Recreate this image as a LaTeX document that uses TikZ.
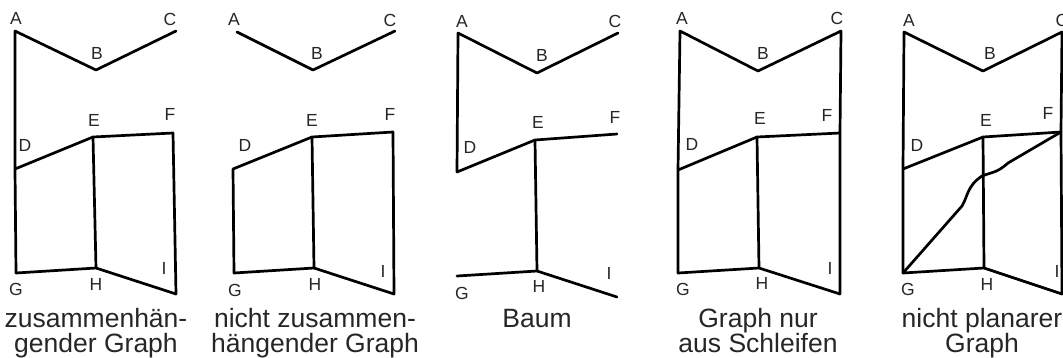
\documentclass[tikz,border=0pt]{standalone}
\usepackage{fontspec}
\setmainfont{Liberation Sans}
\usepackage{tikz}

\begin{document}
\begin{tikzpicture}[
    x=1pt, y=-1pt,
    edge/.style={line width=2.7pt, line join=round, line cap=round},
    vlabel/.style={
        font=\fontsize{17.5}{19}\selectfont,
        text=black!85,
        inner sep=0pt
    },
    caption/.style={
        font=\fontsize{26.5}{25}\selectfont,
        text=black!85,
        align=center,
        anchor=base,
        inner sep=0pt
    }
]
\useasboundingbox (0,0) rectangle (1063,357);

% zusammenhaengender Graph
\coordinate (A1) at (15,31);  \coordinate (B1) at (96,70);  \coordinate (C1) at (176,31);
\coordinate (D1) at (15,169); \coordinate (E1) at (93,137); \coordinate (F1) at (173,133);
\coordinate (G1) at (16,273); \coordinate (H1) at (96,268); \coordinate (I1) at (176,294);
\draw[edge] (C1) -- (B1) -- (A1) -- (D1) -- (G1) -- (H1) -- (I1) -- (F1) -- (E1) -- (D1);
\draw[edge] (E1) -- (H1);
\node[vlabel] (lA1) at (16,18)  {A};
\node[vlabel] (lB1) at (97,53)  {B};
\node[vlabel] (lC1) at (170,19) {C};
\node[vlabel] (lD1) at (25,145) {D};
\node[vlabel] (lE1) at (94,120) {E};
\node[vlabel] (lF1) at (170,114) {F};
\node[vlabel] (lG1) at (16,289) {G};
\node[vlabel] (lH1) at (96,284) {H};
\node[vlabel] (lI1) at (164,268) {I};
\node[caption] (cap1) at (96,352) {zusammenhän-\\gender Graph};

% nicht zusammenhaengender Graph
\coordinate (A2) at (237,32);  \coordinate (B2) at (313,70);  \coordinate (C2) at (395,31);
\coordinate (D2) at (233,169); \coordinate (E2) at (312,137); \coordinate (F2) at (393,132);
\coordinate (G2) at (234,273); \coordinate (H2) at (314,268); \coordinate (I2) at (394,294);
\draw[edge] (A2) -- (B2) -- (C2);
\draw[edge] (D2) -- (G2) -- (H2) -- (I2) -- (F2) -- (E2) -- (D2);
\draw[edge] (E2) -- (H2);
\node[vlabel] (lA2) at (234,19)  {A};
\node[vlabel] (lB2) at (317,53)  {B};
\node[vlabel] (lC2) at (390,20)  {C};
\node[vlabel] (lD2) at (245,145) {D};
\node[vlabel] (lE2) at (312,120) {E};
\node[vlabel] (lF2) at (390,114) {F};
\node[vlabel] (lG2) at (235,290) {G};
\node[vlabel] (lH2) at (315,284) {H};
\node[vlabel] (lI2) at (383,271) {I};
\node[caption] (cap2) at (315,352) {nicht zusammen-\\hängender Graph};

% Baum
\coordinate (A3) at (458,33);  \coordinate (B3) at (537,73);  \coordinate (C3) at (618,33);
\coordinate (D3) at (457,172); \coordinate (E3) at (535,140); \coordinate (F3) at (617,134);
\coordinate (G3) at (457,276); \coordinate (H3) at (537,271); \coordinate (I3) at (617,297);
\draw[edge] (C3) -- (B3) -- (A3) -- (D3) -- (E3) -- (F3);
\draw[edge] (E3) -- (H3);
\draw[edge] (G3) -- (H3) -- (I3);
\node[vlabel] (lA3) at (462,21)  {A};
\node[vlabel] (lB3) at (542,55)  {B};
\node[vlabel] (lC3) at (615,21)  {C};
\node[vlabel] (lD3) at (470,147) {D};
\node[vlabel] (lE3) at (538,122) {E};
\node[vlabel] (lF3) at (615,117) {F};
\node[vlabel] (lG3) at (462,293) {G};
\node[vlabel] (lH3) at (539,286) {H};
\node[vlabel] (lI3) at (609,273) {I};
\node[caption] (cap3) at (537,327) {Baum};

% Graph nur aus Schleifen
\coordinate (A4) at (680,31);  \coordinate (B4) at (758,71);  \coordinate (C4) at (841,31);
\coordinate (D4) at (678,170); \coordinate (E4) at (757,137); \coordinate (F4) at (840,133);
\coordinate (G4) at (678,273); \coordinate (H4) at (759,268); \coordinate (I4) at (840,294);
\draw[edge] (D4) -- (A4) -- (B4) -- (C4) -- (F4) -- (I4) -- (H4) -- (G4) -- (D4) -- (E4) -- (F4);
\draw[edge] (E4) -- (H4);
\node[vlabel] (lA4) at (682,18)  {A};
\node[vlabel] (lB4) at (763,53)  {B};
\node[vlabel] (lC4) at (837,18)  {C};
\node[vlabel] (lD4) at (692,144) {D};
\node[vlabel] (lE4) at (760,118) {E};
\node[vlabel] (lF4) at (827,115) {F};
\node[vlabel] (lG4) at (683,289) {G};
\node[vlabel] (lH4) at (762,283) {H};
\node[vlabel] (lI4) at (830,268) {I};
\node[caption] (cap4) at (758,352) {Graph nur\\aus Schleifen};

% nicht planarer Graph
\coordinate (A5) at (904,32);  \coordinate (B5) at (983,71);  \coordinate (C5) at (1062,32);
\coordinate (D5) at (903,169); \coordinate (E5) at (983,137); \coordinate (F5) at (1061,132);
\coordinate (G5) at (903,273); \coordinate (H5) at (984,268); \coordinate (I5) at (1062,294);
\draw[edge] (D5) -- (A5) -- (B5) -- (C5) -- (F5) -- (I5) -- (H5) -- (G5) -- (D5) -- (E5) -- (F5);
\draw[edge] (E5) -- (H5);
\draw[edge] (G5) -- (962,206) .. controls (968,196) and (967,186) .. (982,176)
    .. controls (992,172) and (997,173) .. (1008,163) -- (F5);
\node[vlabel] (lA5) at (909,20)  {A};
\node[vlabel] (lB5) at (990,53)  {B};
\node[vlabel] (lC5) at (1062,20) {C};
\node[vlabel] (lD5) at (917,145) {D};
\node[vlabel] (lE5) at (986,120) {E};
\node[vlabel] (lF5) at (1048,113) {F};
\node[vlabel] (lG5) at (908,289) {G};
\node[vlabel] (lH5) at (987,284) {H};
\node[vlabel] (lI5) at (1057,271) {I};
\node[caption] (cap5) at (982,352) {nicht planarer\\Graph};

\end{tikzpicture}
\end{document}
